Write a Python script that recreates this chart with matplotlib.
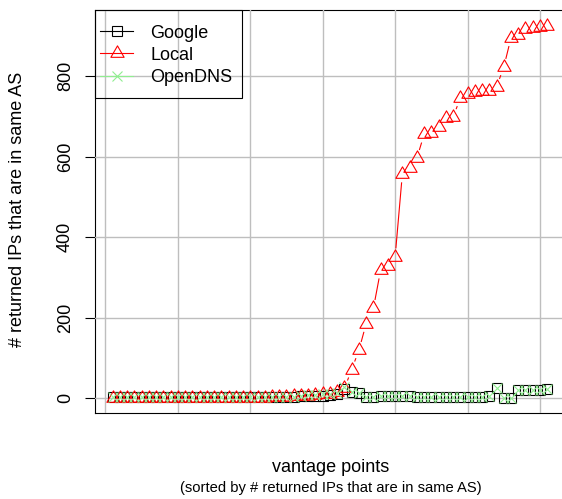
import numpy as np
import matplotlib
matplotlib.use('Agg')
import matplotlib.pyplot as plt
from matplotlib.path import Path
from matplotlib.lines import Line2D
from matplotlib.patches import Rectangle

plt.rcParams['font.family'] = ['Liberation Sans', 'DejaVu Sans']

# ---------------- data ----------------
vantage = list(range(1, 62))
google = [3, 3, 3, 3, 3, 3, 3, 3, 3, 3,
          3, 3, 3, 3, 3, 3, 3, 3, 3, 3,
          3, 3, 3, 3, 3, 3, 4, 5, 6, 6,
          7, 9, 22, 16, 13, 3, 3, 4, 5, 6,
          6, 5, 3, 3, 3, 3, 3, 3, 3, 3,
          3, 3, 4, 24, 1, 1, 21, 21, 21, 21,
          22]
local = [0, 0, 0, 0, 0, 0, 0, 0, 0, 0,
         0, 0, 0, 0, 0, 0, 0, 0, 0, 0,
         1, 1, 2, 2, 3, 4, 5, 6, 7, 9,
         11, 14, 24, 71, 119, 185, 223, 318, 328, 351,
         557, 572, 596, 655, 659, 673, 695, 698, 745, 755,
         761, 763, 764, 773, 822, 895, 903, 918, 920, 922,
         925]
opendns = [3, 3, 3, 3, 3, 3, 3, 3, 3, 3,
           3, 3, 3, 3, 3, 3, 3, 3, 3, 3,
           3, 3, 3, 3, 3, 3, 6, 7, 8, 9,
           10, 12, 28, 16, 13, 3, 3, 4, 5, 6,
           6, 5, 3, 3, 3, 3, 3, 3, 3, 3,
           3, 3, 4, 26, 1, 1, 21, 21, 21, 21,
           22]
series_names = ['Google', 'Local', 'OpenDNS']
y_ticks = [0, 200, 400, 600, 800]
y_tick_labels = ['0', '200', '400', '600', '800']
x_grid = [0, 10, 20, 30, 40, 50, 60]

FS = 13.0

# ---------------- figure ----------------
W, H = 562, 499
fig = plt.figure(figsize=(W / 100, H / 100), dpi=100)
ax_l, ax_r, ax_t, ax_b = 95.3, 564.6, 10.0, 413.0
ax = fig.add_axes([ax_l / W, 1 - ax_b / H, (ax_r - ax_l) / W, (ax_b - ax_t) / H])
ax.set_xlim(-1.4, 63.4)
ax.set_ylim(-37, 964)

for s in ax.spines.values():
    s.set_color('black')
    s.set_linewidth(0.8)

ax.set_xticks([])
ax.set_yticks(y_ticks)
ax.set_yticklabels(y_tick_labels)
ax.tick_params(axis='y', length=7.2, width=0.8, pad=8.3, labelsize=FS,
               labelrotation=90)
for lab in ax.get_yticklabels():
    lab.set_va('center')

# grid
for gx in x_grid:
    ax.axvline(gx, color='#bebebe', lw=1.0, zorder=4)
for gy in y_ticks:
    ax.axhline(gy, color='#bebebe', lw=1.0, zorder=4)

# R-like triangle (centroid at data point)
tri = Path([(0, 1), (-0.866, -0.5), (0.866, -0.5), (0, 1)],
           [Path.MOVETO, Path.LINETO, Path.LINETO, Path.CLOSEPOLY])

styles = {
    'Google': dict(color='black', marker='s', ms=6.8),
    'Local': dict(color='#ff0000', marker=tri, ms=11.0),
    'OpenDNS': dict(color='#90ee90', marker='x', ms=6.8),
}
values = {'Google': google, 'Local': local, 'OpenDNS': opendns}


def draw_type_b(ax, x, y, color, gap_px, lw, z):
    pts = ax.transData.transform(np.column_stack([x, y]).astype(float))
    inv = ax.transData.inverted()
    for p0, p1 in zip(pts[:-1], pts[1:]):
        d = p1 - p0
        L = np.hypot(d[0], d[1])
        if L <= 2 * gap_px:
            continue
        u = d / L
        seg = inv.transform(np.array([p0 + u * gap_px, p1 - u * gap_px]))
        ax.plot(seg[:, 0], seg[:, 1], color=color, lw=lw,
                solid_capstyle='butt', zorder=z)


for i, name in enumerate(series_names):
    st = styles[name]
    draw_type_b(ax, vantage, values[name], st['color'], 8.5, 0.8, 5 + i)
    ax.plot(vantage, values[name], ls='none', marker=st['marker'],
            ms=st['ms'], mfc='none', mec=st['color'], mew=0.8, zorder=5 + i)

# legend
handles = [Line2D([], [], color=styles[n]['color'], lw=0.8,
                  marker=styles[n]['marker'], ms=styles[n]['ms'],
                  mfc='none', mec=styles[n]['color'], mew=0.8)
           for n in series_names]
leg = ax.legend(handles, series_names, loc='upper left',
                bbox_to_anchor=((100 - ax_l) / (ax_r - ax_l), 1 - 14.5 / (ax_b - ax_t)),
                frameon=False, borderpad=0, borderaxespad=0,
                handlelength=1.83, handletextpad=0.94, labelspacing=0.29,
                fontsize=FS)
leg.set_zorder(10)
ax.add_patch(Rectangle((0, 1 - 88 / (ax_b - ax_t)),
                       (242 - ax_l) / (ax_r - ax_l), 88 / (ax_b - ax_t),
                       transform=ax.transAxes, fill=False, edgecolor='black',
                       lw=0.8, zorder=10, clip_on=False))

# axis labels
fig.text(18 / W, 1 - 209 / H, '# returned IPs that are in same AS',
         rotation=90, ha='center', va='center', fontsize=FS)
fig.text(330.5 / W, 1 - 467 / H, 'vantage points', ha='center', va='center',
         fontsize=FS)
fig.text(330.5 / W, 1 - 488 / H, '(sorted by # returned IPs that are in same AS)',
         ha='center', va='center', fontsize=FS * 0.82)

fig.savefig('out.png', dpi=100)
